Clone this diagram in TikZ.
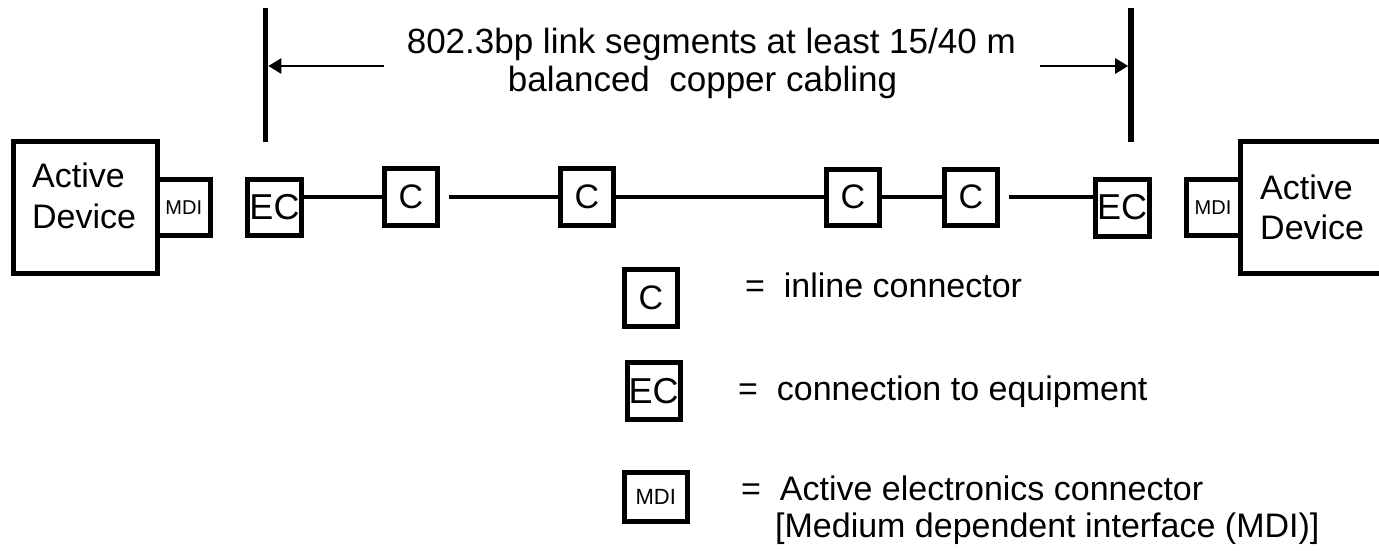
\documentclass[tikz,border=0pt]{standalone}
\usepackage{fontspec}
\setmainfont{Liberation Sans}
\usetikzlibrary{arrows.meta}
\newcommand{\bigtxt}{\fontsize{34}{40}\selectfont}
\newcommand{\titletxt}{\fontsize{35}{41}\selectfont}
\newcommand{\ectxt}{\fontsize{36}{42}\selectfont}
\newcommand{\mditxt}{\fontsize{20}{24}\selectfont}
\newcommand{\mdilegtxt}{\fontsize{22}{26}\selectfont}
\begin{document}
\begin{tikzpicture}[x=1pt,y=-1pt,
  boxstyle/.style={draw, line width=5pt, inner sep=0pt, font=\bigtxt},
  ecbox/.style={boxstyle, font=\ectxt},
  mdibox/.style={boxstyle, font=\mditxt},
  wire/.style={line width=4.5pt},
  barline/.style={line width=5.5pt},
  dimarrow/.style={line width=2.7pt, -{Triangle[length=13pt,width=15pt]}, shorten >=2.8pt},
  txt/.style={inner sep=0pt, anchor=base west, font=\bigtxt}]
\useasboundingbox (0,0) rectangle (1379,550);
\clip (0,0) rectangle (1379,550);
\fill[white] (0,0) rectangle (1379,550);

% devices and connectors in the chain
\node[boxstyle, minimum width=143.7pt, minimum height=132pt] (adL) at (85.2,207.5) {};
\node[mdibox, minimum width=53.5pt, minimum height=56pt] (mdiL) at (183.75,207.5) {MDI};
\node[ecbox, minimum width=54pt, minimum height=56pt] (ecL) at (274.5,207.5) {EC};
\node[boxstyle, minimum width=53pt, minimum height=56.5pt] (c1) at (411,197) {C};
\node[boxstyle, minimum width=53pt, minimum height=56.5pt] (c2) at (587,197) {C};
\node[boxstyle, minimum width=53.5pt, minimum height=56pt] (c3) at (852.8,197) {C};
\node[boxstyle, minimum width=53pt, minimum height=56pt] (c4) at (971,197) {C};
\node[ecbox, minimum width=54pt, minimum height=57pt] (ecR) at (1122,207.5) {EC};
\node[mdibox, minimum width=54pt, minimum height=56pt] (mdiR) at (1213,207.5) {MDI};
\node[boxstyle, minimum width=143.7pt, minimum height=132pt] (adR) at (1311.85,207.5) {};

% device labels
\node[txt] (adLa) at (32,187) {Active};
\node[txt] (adLb) at (32,228) {Device};
\node[txt] (adRa) at (1260,199) {Active};
\node[txt] (adRb) at (1260,239) {Device};

% cabling
\draw[wire] (ecL.east |- c1.west) -- (c1.west);
\draw[wire] ([xshift=8.5pt]c1.east) -- (c2.west);
\draw[wire] (c2.east) -- (c3.west);
\draw[wire] (c3.east) -- (c4.west);
\draw[wire] ([xshift=8.5pt]c4.east) -- (c4.east -| ecR.west);

% dimension bars and arrows
\coordinate (barLt) at (265.5,8);
\coordinate (barLb) at (265.5,142);
\coordinate (barRt) at (1131,8);
\coordinate (barRb) at (1131,142);
\draw[barline] (barLt) -- (barLb);
\draw[barline] (barRt) -- (barRb);
\coordinate (arrL) at (384,66);
\coordinate (arrR) at (1040,66);
\draw[dimarrow] (arrL) -- (arrL -| barLt);
\draw[dimarrow] (arrR) -- (arrR -| barRt);

\node[txt, font=\titletxt] (title1) at (406.6,53) {802.3bp link segments at least 15/40 m};
\node[txt, font=\titletxt] (title2) at (507.7,91) {balanced\ \ copper cabling};

% legend
\node[boxstyle, minimum width=53.5pt, minimum height=56.5pt] (legc) at (650.8,298) {C};
\node[ecbox, minimum width=53pt, minimum height=56.5pt] (legec) at (653.5,391) {EC};
\node[boxstyle, font=\mdilegtxt, minimum width=63.5pt, minimum height=49pt] (legmdi) at (655.8,496.5) {MDI};
\node[txt] (legct) at (745,297) {=\ \ inline connector};
\node[txt] (legect) at (738,400) {=\ \ connection to equipment};
\node[txt] (legmdit) at (741,500) {=\ \ Active electronics connector};
\node[txt] (legmdit2) at (775,537) {[Medium dependent interface (MDI)]};
\end{tikzpicture}
\end{document}
